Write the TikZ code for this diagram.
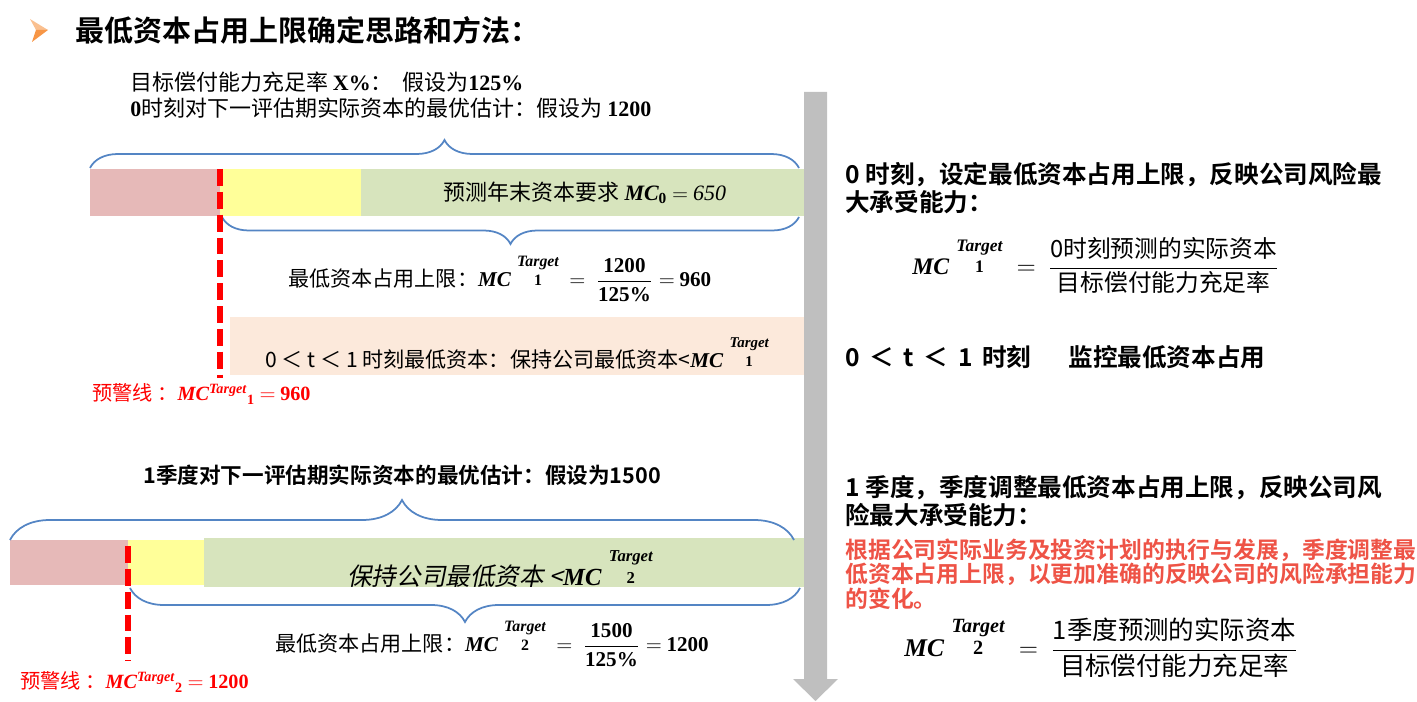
\documentclass[tikz,border=0pt]{standalone}
\usepackage{amsmath}
\usepackage[no-math]{fontspec}
\setmainfont{Noto Sans CJK SC}[BoldFont={Noto Sans CJK SC Bold}]
\newfontfamily\cjkit{Noto Sans CJK SC}[FakeSlant=0.2]
\newfontfamily\serif{Liberation Serif}
\usetikzlibrary{decorations.pathreplacing}
\definecolor{barpink}{RGB}{230,185,184}
\definecolor{baryellow}{RGB}{255,255,153}
\definecolor{bargreen}{RGB}{215,228,189}
\definecolor{peach}{RGB}{252,233,219}
\definecolor{braceblue}{RGB}{84,133,196}
\definecolor{arrowgray}{RGB}{191,191,191}
\definecolor{orangedark}{RGB}{247,150,70}
\definecolor{orangelight}{RGB}{250,192,144}
\definecolor{notered}{RGB}{238,83,70}
\newcommand{\nb}[1]{{\serif\bfseries #1}}
\newcommand{\mci}{{\serif\bfseries\itshape MC}}
\newcommand{\mctgt}[2][9]{\mbox{\mci\hspace{0.3em}\raisebox{0.45em}{\renewcommand{\arraystretch}{0.8}\begin{tabular}{@{}c@{}}\fontsize{#1}{#1}\selectfont\serif\bfseries\itshape Target\\\fontsize{#1}{#1}\selectfont\serif\bfseries #2\end{tabular}}}}
\newcommand{\mcwarn}[1]{\mci$^{\text{\serif\bfseries\itshape Target}}{}_{\text{\serif\bfseries #1}}$}

\begin{document}
\begin{tikzpicture}[x=0.02cm, y=-0.02cm,
    brace/.style={draw=braceblue, line width=1pt, decorate, decoration={brace, amplitude=#1}},
    mbrace/.style={draw=braceblue, line width=1pt, decorate, decoration={brace, mirror, amplitude=#1}},
    warnline/.style={draw=red, line width=3.4pt, dash pattern=on 9.6pt off 3.4pt},
    txt/.style={anchor=west, inner sep=0pt, font=\fontsize{12}{14}\selectfont},
    rtxt/.style={anchor=west, inner sep=0pt, font=\fontsize{14}{15.3}\selectfont\bfseries},
    warn/.style={anchor=west, inner sep=0pt, text=red, font=\fontsize{11.5}{13}\selectfont}]
\useasboundingbox (0,0) rectangle (1417,702);

\fill[orangelight] (30,19) -- (48,30) -- (36,30) -- cycle;
\fill[orangedark] (36,30) -- (48,30) -- (32,42) -- cycle;
\node[anchor=west, inner sep=0pt, font=\fontsize{16.5}{18}\selectfont\bfseries] (title) at (75,30) {最低资本占用上限确定思路和方法：};

\node[txt, font=\fontsize{12.5}{14}\selectfont] (ratio) at (130,82) {目标偿付能力充足率 \nb{X\%}：\ \ 假设为\nb{125\%}};
\node[txt, font=\fontsize{12.5}{14}\selectfont] (est0) at (130,108) {\nb{0}时刻对下一评估期实际资本的最优估计：假设为 \nb{1200}};

\fill[barpink] (90,169) rectangle (220,216);
\fill[baryellow] (220,169) rectangle (361,216);
\fill[bargreen] (361,169) rectangle (805,216);
\node[txt, anchor=center, font=\fontsize{12.5}{14}\selectfont] (req0) at (585,193) {预测年末资本要求 \mci$_{\text{\serif\bfseries 0}}$ $=$ {\serif\itshape 650}};
\coordinate (b0l) at (90,168);
\coordinate (b0r) at (799,168);
\coordinate (c0l) at (222,217);
\coordinate (c0r) at (799,217);
\draw[brace=0.56cm] (b0l) -- (b0r);
\draw[mbrace=0.54cm] (c0l) -- (c0r);
\node[txt] (lim1) at (288,277) {最低资本占用上限：\mctgt{1} $\;=\ \dfrac{\text{\nb{1200}}}{\text{\nb{125\%}}} = $ \nb{960}};

\fill[peach] (230,317) rectangle (804,375);
\node[txt] (mon1) at (265,353) {0 ＜ t ＜ 1 时刻最低资本：保持公司最低资本<\mctgt[8.5]{1}};
\coordinate (w1t) at (220,169);
\coordinate (w1b) at (220,378);
\draw[warnline] (w1t) -- (w1b);
\node[warn] (warn1) at (92,394) {预警线 ：\mcwarn{1} $=$ \nb{960}};

\node[txt, font=\fontsize{12.3}{14}\selectfont\bfseries] (est1) at (143,475) {1季度对下一评估期实际资本的最优估计：假设为1500};
\fill[barpink] (10,540) rectangle (128,585);
\fill[baryellow] (128,540) rectangle (204,585);
\fill[bargreen] (204,538) rectangle (805,587);
\node[anchor=center, inner sep=0pt, font=\fontsize{14}{16}\selectfont] (keep2) at (500,568) {{\cjkit 保持公司最低资本 <}\mctgt[9.5]{2}};
\coordinate (b1l) at (10,540);
\coordinate (b1r) at (794,540);
\coordinate (c1l) at (130,588);
\coordinate (c1r) at (800,588);
\draw[brace=0.8cm] (b1l) -- (b1r);
\draw[mbrace=0.68cm] (c1l) -- (c1r);
\node[txt] (lim2) at (275,642) {最低资本占用上限：\mctgt{2} $\;=\ \dfrac{\text{\nb{1500}}}{\text{\nb{125\%}}} = $ \nb{1200}};
\coordinate (w2t) at (128,546);
\coordinate (w2b) at (128,661);
\draw[warnline] (w2t) -- (w2b);
\node[warn] (warn2) at (20,682) {预警线 ：\mcwarn{2} $=$ \nb{1200}};

\fill[arrowgray] (804,92) -- (827,92) -- (827,679) -- (838,679) -- (815.5,701) -- (793,679) -- (804,679) -- cycle;

\node[rtxt] (r0a) at (845,175) {0 时刻，设定最低资本占用上限，反映公司风险最};
\node[rtxt] (r0b) at (845,202) {大承受能力：};
\node[anchor=west, inner sep=0pt, font=\fontsize{13.5}{15}\selectfont] (r0f) at (912,265) {\mctgt[10]{1}$\;\;=\ \dfrac{\text{0时刻预测的实际资本}}{\text{目标偿付能力充足率}}$};
\node[rtxt] (r0t) at (845,357) {0 \,＜\, t \,＜\, 1 \,时刻\hspace{1.5em}监控最低资本占用};

\node[rtxt] (r1a) at (845,488) {1 季度，季度调整最低资本占用上限，反映公司风};
\node[rtxt] (r1b) at (845,515) {险最大承受能力：};
\node[anchor=west, inner sep=0pt, align=left, text=notered, font=\fontsize{13}{12}\selectfont\bfseries] (r1red) at (845,574) {根据公司实际业务及投资计划的执行与发展，季度调整最\\低资本占用上限，以更加准确的反映公司的风险承担能力\\的变化。};
\node[anchor=west, inner sep=0pt, font=\fontsize{14.5}{16}\selectfont] (r1f) at (904,647) {\mctgt[11.5]{2}$\;\;=\ \dfrac{\text{1季度预测的实际资本}}{\text{目标偿付能力充足率}}$};
\end{tikzpicture}
\end{document}
